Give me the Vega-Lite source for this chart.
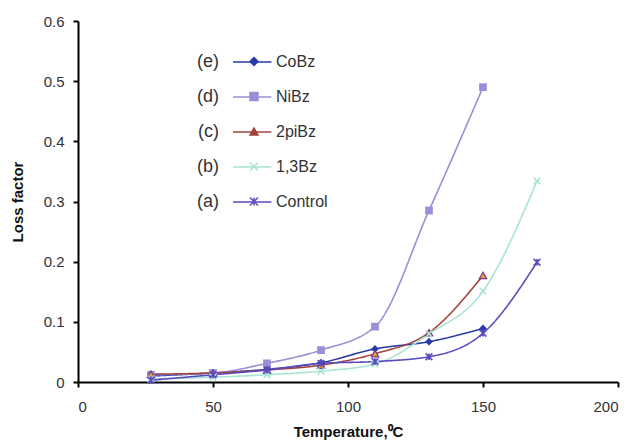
{
  "$schema": "https://vega.github.io/schema/vega-lite/v6.json",
  "width": 540,
  "height": 361,
  "autosize": {"type": "none"},
  "padding": {"left": 78, "top": 21, "right": 18, "bottom": 62},
  "background": "white",
  "config": {
    "view": {"stroke": null},
    "font": "Liberation Sans",
    "axis": {"domainColor": "black", "domainWidth": 2, "tickColor": "black", "tickWidth": 2, "tickSize": 5, "grid": false, "labelColor": "#333", "labelFontSize": 15, "titleFontSize": 15, "titleFontWeight": "bold", "titleColor": "#111"}
  },
  "data": {"values": [
    {"series": "CoBz", "label": "(e)", "t": 27, "v": 0.010},
    {"series": "CoBz", "label": "(e)", "t": 50, "v": 0.015},
    {"series": "CoBz", "label": "(e)", "t": 70, "v": 0.021},
    {"series": "CoBz", "label": "(e)", "t": 90, "v": 0.032},
    {"series": "CoBz", "label": "(e)", "t": 110, "v": 0.055},
    {"series": "CoBz", "label": "(e)", "t": 130, "v": 0.067},
    {"series": "CoBz", "label": "(e)", "t": 150, "v": 0.089},
    {"series": "NiBz", "label": "(d)", "t": 27, "v": 0.012},
    {"series": "NiBz", "label": "(d)", "t": 50, "v": 0.015},
    {"series": "NiBz", "label": "(d)", "t": 70, "v": 0.031},
    {"series": "NiBz", "label": "(d)", "t": 90, "v": 0.053},
    {"series": "NiBz", "label": "(d)", "t": 110, "v": 0.092},
    {"series": "NiBz", "label": "(d)", "t": 130, "v": 0.285},
    {"series": "NiBz", "label": "(d)", "t": 150, "v": 0.490},
    {"series": "2piBz", "label": "(c)", "t": 27, "v": 0.013},
    {"series": "2piBz", "label": "(c)", "t": 50, "v": 0.015},
    {"series": "2piBz", "label": "(c)", "t": 70, "v": 0.020},
    {"series": "2piBz", "label": "(c)", "t": 90, "v": 0.028},
    {"series": "2piBz", "label": "(c)", "t": 110, "v": 0.047},
    {"series": "2piBz", "label": "(c)", "t": 130, "v": 0.082},
    {"series": "2piBz", "label": "(c)", "t": 150, "v": 0.177},
    {"series": "1,3Bz", "label": "(b)", "t": 27, "v": 0.005},
    {"series": "1,3Bz", "label": "(b)", "t": 50, "v": 0.008},
    {"series": "1,3Bz", "label": "(b)", "t": 70, "v": 0.012},
    {"series": "1,3Bz", "label": "(b)", "t": 90, "v": 0.018},
    {"series": "1,3Bz", "label": "(b)", "t": 110, "v": 0.030},
    {"series": "1,3Bz", "label": "(b)", "t": 130, "v": 0.080},
    {"series": "1,3Bz", "label": "(b)", "t": 150, "v": 0.151},
    {"series": "1,3Bz", "label": "(b)", "t": 170, "v": 0.334},
    {"series": "Control", "label": "(a)", "t": 27, "v": 0.003},
    {"series": "Control", "label": "(a)", "t": 50, "v": 0.012},
    {"series": "Control", "label": "(a)", "t": 70, "v": 0.020},
    {"series": "Control", "label": "(a)", "t": 90, "v": 0.031},
    {"series": "Control", "label": "(a)", "t": 110, "v": 0.034},
    {"series": "Control", "label": "(a)", "t": 130, "v": 0.042},
    {"series": "Control", "label": "(a)", "t": 150, "v": 0.081},
    {"series": "Control", "label": "(a)", "t": 170, "v": 0.199}
  ]},
  "encoding": {
    "x": {"field": "t", "type": "quantitative", "scale": {"domain": [0, 200], "nice": false}, "axis": {"values": [0, 50, 100, 150, 200], "title": "Temperature,⁰C", "labelPadding": 12, "titlePadding": 10}},
    "y": {"field": "v", "type": "quantitative", "scale": {"domain": [0, 0.6], "nice": false}, "axis": {"values": [0, 0.1, 0.2, 0.3, 0.4, 0.5, 0.6], "format": "~g", "title": "Loss factor", "labelPadding": 9, "titlePadding": 18}}
  },
  "layer": [
    {
      "mark": {"type": "line", "interpolate": "monotone", "strokeWidth": 1.6},
      "encoding": {
        "color": {"field": "series", "type": "nominal", "scale": {"domain": ["CoBz", "NiBz", "2piBz", "1,3Bz", "Control"], "range": ["#2A3AA8", "#9A8ED8", "#A0443C", "#A8E4D4", "#5A4CC0"]},
          "legend": {"orient": "none", "legendX": 168, "legendY": 33, "title": null, "labelFontSize": 16, "labelColor": "#333", "rowPadding": 18, "clipHeight": 15, "symbolSize": 64, "labelOffset": 14, "zindex": 2}},
        "strokeDash": {"field": "label", "type": "nominal", "scale": {"domain": ["(e)", "(d)", "(c)", "(b)", "(a)"], "range": [[1, 0], [1, 0], [1, 0], [1, 0], [1, 0]]},
          "legend": {"orient": "none", "legendX": 166, "legendY": 32, "title": null, "labelFontSize": 18, "labelColor": "#333", "rowPadding": 17, "symbolType": "M-5,0L4.6,0", "symbolSize": 64, "symbolStrokeWidth": 1.6, "symbolStrokeColor": "#5A4CC0", "symbolOpacity": 1, "labelAlign": "right", "labelOffset": -43, "zindex": 1,
            "encode": {"symbols": {"update": {"stroke": {"signal": "datum.value === '(e)' ? '#2A3AA8' : datum.value === '(d)' ? '#9A8ED8' : datum.value === '(c)' ? '#A0443C' : datum.value === '(b)' ? '#A8E4D4' : '#5A4CC0'"}, "fill": {"value": "transparent"}}}}}}
      }
    },
    {
      "transform": [{"filter": "datum.series === 'CoBz' || datum.series === 'NiBz'"}],
      "mark": {"type": "point", "filled": true, "opacity": 1, "size": 60},
      "encoding": {
        "color": {"field": "series", "type": "nominal"},
        "shape": {"field": "series", "type": "nominal", "scale": {"domain": ["CoBz", "NiBz", "2piBz", "1,3Bz", "Control"], "range": ["diamond", "square", "triangle-up", "M-1,-1L1,1M-1,1L1,-1", "M-1,-1L1,1M-1,1L1,-1M0,-1L0,1"]}}
      }
    },
    {
      "transform": [{"filter": "datum.series === '2piBz'"}],
      "mark": {"type": "point", "filled": true, "opacity": 1, "size": 55, "fill": "#F2A21E", "stroke": "#6E3A9A", "strokeWidth": 1.2},
      "encoding": {
        "shape": {"field": "series", "type": "nominal"}
      }
    },
    {
      "transform": [{"filter": "datum.series === '1,3Bz' || datum.series === 'Control'"}],
      "mark": {"type": "point", "filled": false, "opacity": 1, "size": 45, "strokeWidth": 1.6},
      "encoding": {
        "color": {"field": "series", "type": "nominal"},
        "shape": {"field": "series", "type": "nominal"}
      }
    }
  ]
}
